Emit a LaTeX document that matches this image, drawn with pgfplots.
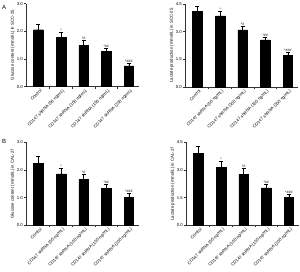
\documentclass[border=0pt]{standalone}
\usepackage{fontspec}
\setmainfont{Liberation Sans}
\usepackage{pgfplots}
\pgfplotsset{compat=1.18}
\newcommand{\tf}{\fontsize{4.3}{5}\selectfont}
\pgfplotsset{
  panel/.style={
    scale only axis, width=113bp, height=83bp, anchor=south west,
    xmin=-0.55, xmax=4.45, ymin=0,
    axis x line*=bottom, axis y line*=left,
    axis line style={line width=0.5pt, black!80},
    tick style={black!80, line width=0.5pt},
    tick align=outside, major tick length=2bp, minor tick length=2bp,
    xtick={0,1,2,3,4},
    xticklabels={Control, CD147 shRNA (50 ng/mL), CD147 shRNA (100 ng/mL), CD147 shRNA (150 ng/mL), CD147 shRNA (200 ng/mL)},
    major x tick style={draw=none},
    minor xtick={0.5,1.5,2.5,3.5},
    x tick label style={rotate=45, anchor=north east, font=\tf, inner sep=1pt, xshift=2bp},
    y tick label style={font=\tf, inner sep=1pt},
    yticklabel style={/pgf/number format/fixed, /pgf/number format/precision=1, /pgf/number format/fixed zerofill},
    /pgf/number format/assume math mode=true,
    ylabel style={font=\tf, inner sep=1pt},
    clip=false,
  },
  bars/.style={ybar, bar width=9.5bp, fill=black, draw=black,
    error bars/.cd, y dir=plus, y explicit,
    error bar style={line width=0.6pt, black},
    error mark options={rotate=90, mark size=2bp, line width=0.6pt, black}},
  sig/.style={only marks, mark=*, mark size=0pt, nodes near coords, point meta=explicit symbolic,
    nodes near coords style={font=\fontsize{3.6}{4}\selectfont, anchor=south, inner sep=0.6pt}},
}
\begin{document}
\begin{tikzpicture}
\useasboundingbox (0,0) rectangle (300bp,272bp);
\node[font=\fontsize{6}{7}\selectfont, anchor=center] at (4bp,265bp) {A};
\node[font=\fontsize{6}{7}\selectfont, anchor=center] at (4bp,131bp) {B};
% A left
\begin{axis}[panel, at={(26bp,185.3bp)}, ymax=3, ytick={0,1,2,3},
  ylabel={Glucose content (mmol/L) in SCC-25}]
\addplot[bars] coordinates {(0,2.06) +- (0,0.20) (1,1.78) +- (0,0.19) (2,1.50) +- (0,0.18) (3,1.27) +- (0,0.12) (4,0.75) +- (0,0.11)};
\addplot[sig] coordinates {(1,1.97)[*] (2,1.68)[*\#] (3,1.39)[*\#\#] (4,0.86)[*\#\#\#]};
\end{axis}
% A right
\begin{axis}[panel, at={(185bp,185bp)}, ymax=4.5, ytick={0,1.5,3,4.5},
  ylabel={Lactate production (mmol/L) in SCC-25}]
\addplot[bars] coordinates {(0,4.12) +- (0,0.24) (1,3.85) +- (0,0.23) (2,3.10) +- (0,0.18) (3,2.56) +- (0,0.13) (4,1.72) +- (0,0.15)};
\addplot[sig] coordinates {(1,4.08)[*] (2,3.28)[*\#] (3,2.69)[*\#\#] (4,1.87)[*\#\#\#]};
\end{axis}
% B left
\begin{axis}[panel, at={(26bp,46.7bp)}, ymax=3, ytick={0,1,2,3},
  ylabel={Glucose content (mmol/L) in CAL-27}]
\addplot[bars] coordinates {(0,2.24) +- (0,0.26) (1,1.86) +- (0,0.20) (2,1.66) +- (0,0.18) (3,1.34) +- (0,0.14) (4,1.02) +- (0,0.12)};
\addplot[sig] coordinates {(1,2.06)[*] (2,1.84)[*\#] (3,1.48)[*\#\#] (4,1.14)[*\#\#\#]};
\end{axis}
% B right
\begin{axis}[panel, at={(186bp,46.7bp)}, ymax=4.5, ytick={0,1.5,3,4.5},
  ylabel={Lactate production (mmol/L) in CAL-27}]
\addplot[bars] coordinates {(0,3.89) +- (0,0.39) (1,3.14) +- (0,0.33) (2,2.78) +- (0,0.31) (3,2.03) +- (0,0.22) (4,1.50) +- (0,0.16)};
\addplot[sig] coordinates {(1,3.47)[*] (2,3.09)[*\#] (3,2.25)[*\#\#] (4,1.66)[*\#\#\#]};
\end{axis}
\end{tikzpicture}
\end{document}
